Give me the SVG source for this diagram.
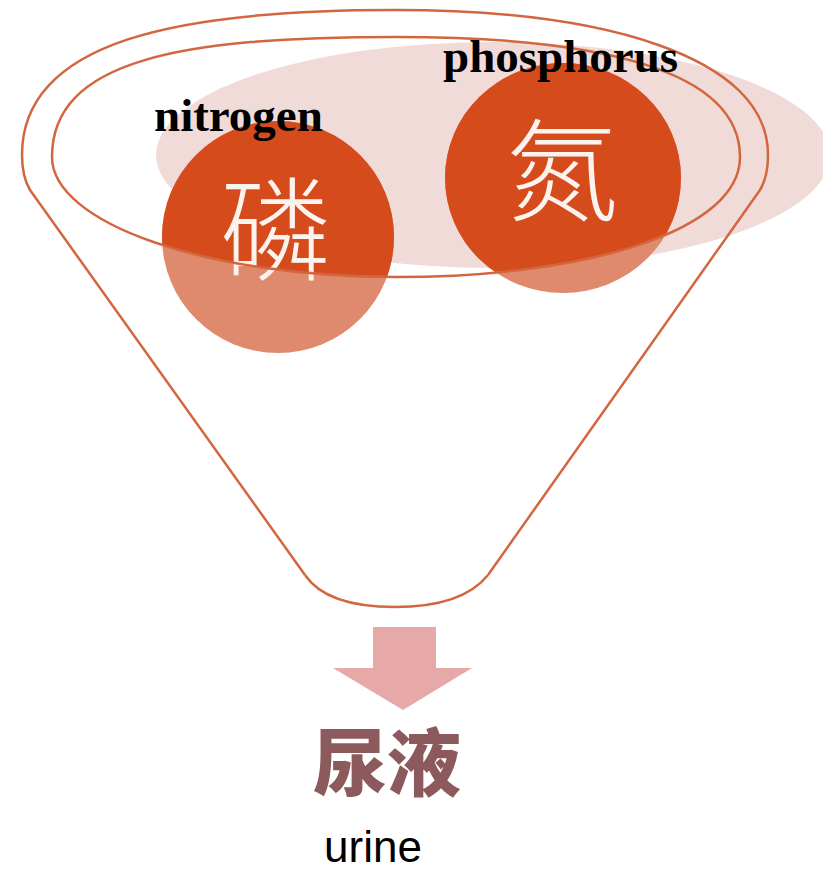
<svg xmlns="http://www.w3.org/2000/svg" width="823" height="874" viewBox="0 0 823 874">
  <style>
    .rim { fill: none; stroke: #d2673f; stroke-width: 2.5; stroke-linejoin: round; }
    .light { fill: #e08a6d; }
    .dark { fill: #d54b1c; }
    .en { font-family: "Liberation Serif", "Times New Roman", serif; font-weight: bold; font-size: 47px; fill: #000; }
    .zh { font-family: "Noto Sans CJK SC", "Noto Sans CJK TC", sans-serif; font-weight: 300; font-size: 112px; fill: #fdf3ee; text-anchor: middle; }
  </style>
  <defs>
    <clipPath id="innerClip">
      <path d="M 52,157 C 52,60 180,37 396,37 C 600,37 740,70 740,157 C 740,230 590,277 396,277 C 206,277 52,223 52,157 Z"/>
    </clipPath>
  </defs>
  <rect width="823" height="874" fill="#ffffff"/>

  <g id="pink-area">
    <ellipse cx="493" cy="155" rx="337" ry="113" fill="#f1dbd8"/>
  </g>

  <g id="node-phosphorus-ball">
    <circle cx="278" cy="237" r="116" class="light"/>
    <circle cx="278" cy="237" r="116" class="dark" clip-path="url(#innerClip)"/>
    <text class="zh" x="276" y="272">磷</text>
  </g>

  <g id="node-nitrogen-ball">
    <ellipse cx="563" cy="178" rx="118" ry="115" class="light"/>
    <ellipse cx="563" cy="178" rx="118" ry="115" class="dark" clip-path="url(#innerClip)"/>
    <text class="zh" x="562" y="213">氮</text>
  </g>

  <g id="funnel">
    <path class="rim" d="M 305,575 L 30,190 C 24,180 22,168 22,155 C 22,40 180,10 395,10 C 600,10 768,55 768,155 C 768,168 766,180 760,190 L 488,575"/>
    <path class="rim" d="M 305,575 C 322,600 360,607 395,607 C 430,607 468,600 488,575"/>
    <path class="rim" d="M 52,157 C 52,60 180,37 396,37 C 600,37 740,70 740,157 C 740,230 590,277 396,277 C 206,277 52,223 52,157 Z"/>
  </g>

  <g id="labels">
    <text class="en" x="443" y="72">phosphorus</text>
    <text class="en" x="154" y="131">nitrogen</text>
  </g>

  <g id="connectors">
    <polygon points="373,627 436,627 436,668 472,668 403,710 333,668 373,668" fill="#e6a9a8"/>
  </g>

  <g id="node-urine">
    <text x="387" y="790" text-anchor="middle" font-family="Noto Sans CJK SC, sans-serif" font-weight="900" font-size="74" fill="#8c5a5c">尿液</text>
    <text x="373" y="862" text-anchor="middle" font-family="Liberation Sans, Arial, sans-serif" font-size="44" fill="#000">urine</text>
  </g>
</svg>
